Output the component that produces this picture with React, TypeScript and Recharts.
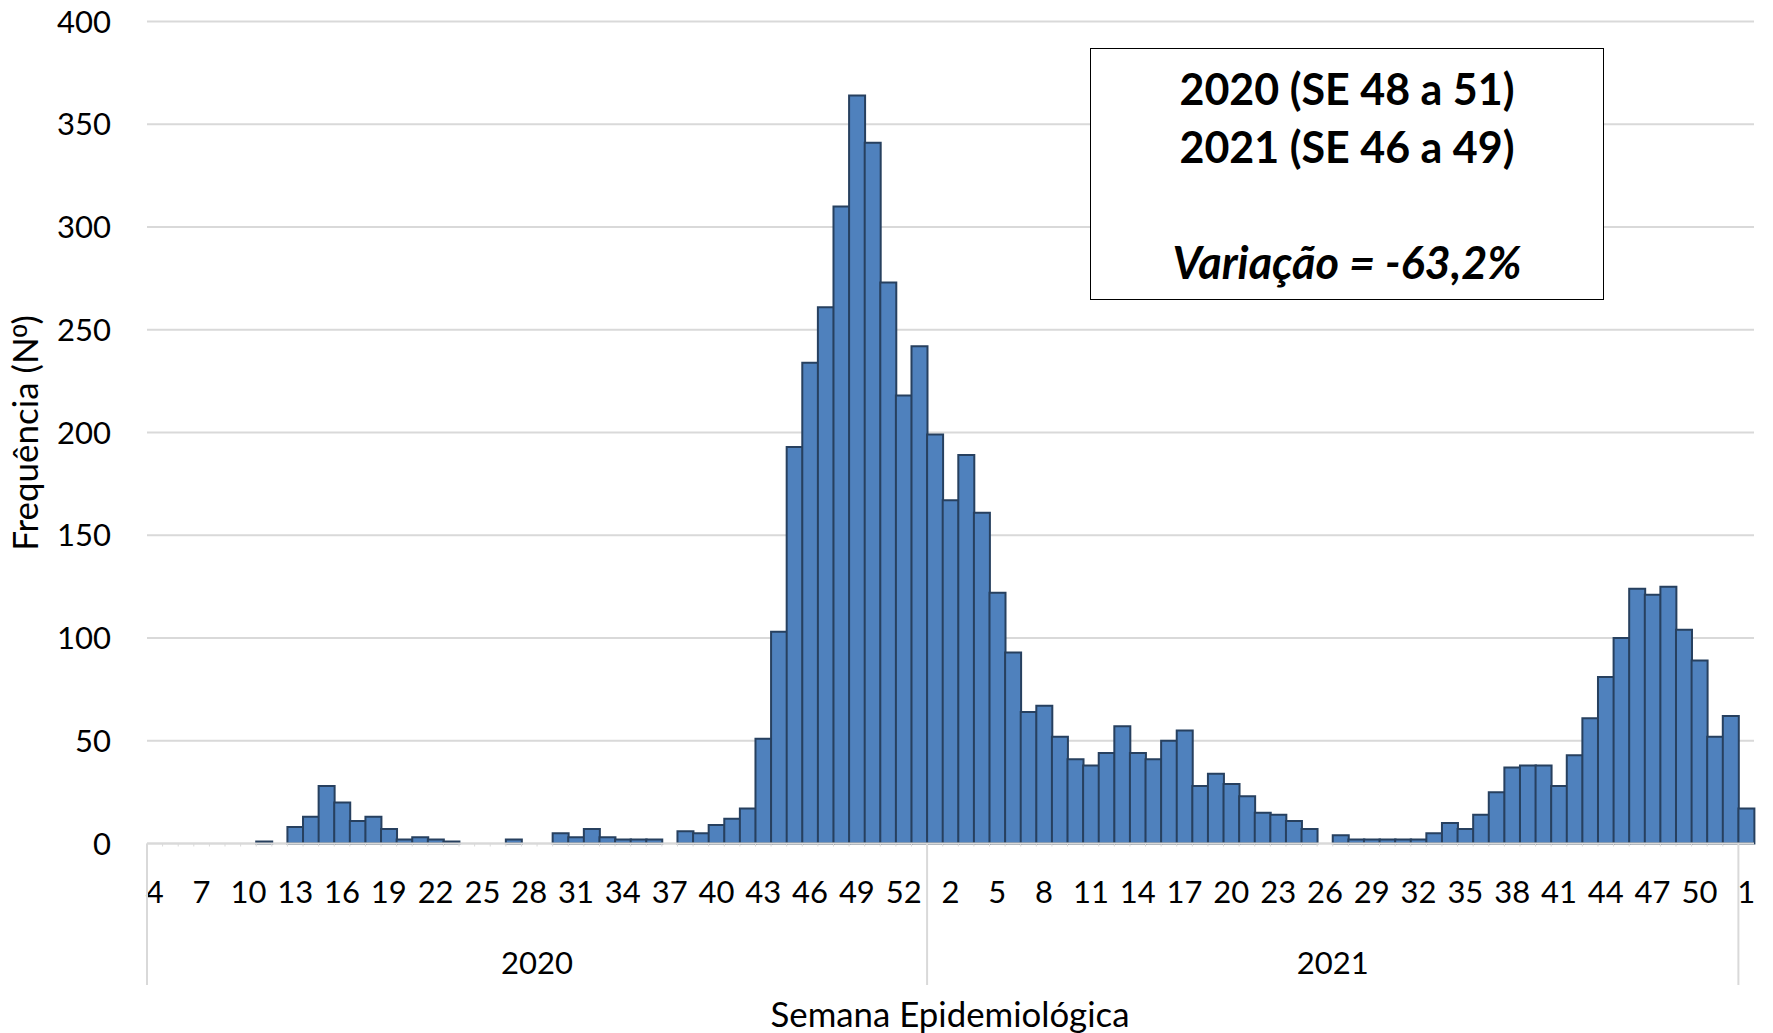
import { BarChart, Bar, XAxis, YAxis, CartesianGrid } from 'recharts'

// semanas epidemiológicas por ano
const WEEKS_2020 = [
  4, 5, 6, 7, 8, 9, 10, 11, 12, 13, 14, 15, 16, 17, 18, 19, 20, 21, 22, 23, 24, 25, 26, 27, 28,
  29, 30, 31, 32, 33, 34, 35, 36, 37, 38, 39, 40, 41, 42, 43, 44, 45, 46, 47, 48, 49, 50, 51, 52, 53,
]
const WEEKS_2021 = [
  1, 2, 3, 4, 5, 6, 7, 8, 9, 10, 11, 12, 13, 14, 15, 16, 17, 18, 19, 20, 21, 22, 23, 24, 25, 26,
  27, 28, 29, 30, 31, 32, 33, 34, 35, 36, 37, 38, 39, 40, 41, 42, 43, 44, 45, 46, 47, 48, 49, 50, 51, 52,
]
const WEEKS_2022 = [1]

// frequência (Nº) por semana
const CASES_2020 = [
  0, 0, 0, 0, 0, 0, 0, 1, 0, 8,
  13, 28, 20, 11, 13, 7, 2, 3, 2, 1,
  0, 0, 0, 2, 0, 0, 5, 3, 7, 3,
  2, 2, 2, 0, 6, 5, 9, 12, 17, 51,
  103, 193, 234, 261, 310, 364, 341, 273, 218, 242,
]
const CASES_2021 = [
  199, 167, 189, 161, 122, 93, 64, 67, 52, 41,
  38, 44, 57, 44, 41, 50, 55, 28, 34, 29,
  23, 15, 14, 11, 7, 0, 4, 2, 2, 2,
  2, 2, 5, 10, 7, 14, 25, 37, 38, 38,
  28, 43, 61, 81, 100, 124, 121, 125, 104, 89,
  52, 62,
]
const CASES_2022 = [17]

const Y_TICKS = [0, 50, 100, 150, 200, 250, 300, 350, 400]

const groups = [
  { year: '2020', weeks: WEEKS_2020, cases: CASES_2020 },
  { year: '2021', weeks: WEEKS_2021, cases: CASES_2021 },
  { year: '2022', weeks: WEEKS_2022, cases: CASES_2022 },
]

const data = groups.flatMap((g) =>
  g.weeks.map((w, i) => ({ key: `${g.year}-${w}`, year: g.year, week: w, cases: g.cases[i] })),
)

let cursor = 0
const groupSpans = groups.map((g) => {
  const span = { year: g.year, start: cursor, count: g.weeks.length }
  cursor += g.weeks.length
  return span
})

const W = 1773
const H = 1033
const MARGIN = { top: 21.5, right: 19, left: 0, bottom: 0 }
const Y_AXIS_W = 147
const X_AXIS_H = 189.5
const BAND = (W - MARGIN.left - MARGIN.right - Y_AXIS_W) / data.length

const FONT = 'Lato, sans-serif'
const GRID = '#d9d9d9'

function WeekTick(props: any) {
  const { x, y, payload } = props
  const i = payload?.index ?? props.index
  const row = data[i]
  if (!row) return null
  const left = x - BAND / 2
  const span = groupSpans.find((s) => i >= s.start && i < s.start + s.count)
  const els = [
    <line key="t" x1={left} x2={left} y1={y} y2={y + 3} stroke={GRID} strokeWidth={1} />,
  ]
  if (i % 3 === 0) {
    els.push(
      <text key="w" x={x} y={y + 59.5} textAnchor="middle" fontSize={31} fontFamily={FONT} fill="#000">
        {row.week}
      </text>,
    )
  }
  if (span && i === span.start) {
    els.push(<line key="s" x1={left} x2={left} y1={y} y2={y + 141.5} stroke={GRID} strokeWidth={2} />)
  }
  // Excel omits the year label when the group is too narrow (2022)
  if (span && span.count * BAND > 80 && i === span.start + Math.floor((span.count - 1) / 2)) {
    const cx = span.count % 2 === 0 ? x + BAND / 2 : x
    els.push(
      <text key="y" x={cx} y={y + 130.5} textAnchor="middle" fontSize={31} fontFamily={FONT} fill="#000">
        {span.year}
      </text>,
    )
  }
  return <g>{els}</g>
}

export default function App() {
  return (
    <div
      style={{
        position: 'absolute',
        left: 0,
        top: 0,
        width: W,
        height: H,
        background: '#fff',
        fontFamily: FONT,
        color: '#000',
      }}
    >
      <BarChart width={W} height={H} data={data} margin={MARGIN} barCategoryGap={0} barGap={0}>
        <CartesianGrid vertical={false} stroke={GRID} strokeWidth={2} />
        <XAxis
          dataKey="key"
          interval={0}
          height={X_AXIS_H}
          axisLine={{ stroke: GRID, strokeWidth: 2 }}
          tickLine={false}
          tickSize={0}
          tickMargin={0}
          tick={<WeekTick />}
        />
        <YAxis
          width={Y_AXIS_W}
          domain={[0, 400]}
          ticks={Y_TICKS}
          axisLine={false}
          tickLine={false}
          tickSize={0}
          tickMargin={36}
          tick={{ fontSize: 31, fill: '#000', fontFamily: FONT }}
        />
        <Bar dataKey="cases" fill="#4f81bd" stroke="#27405f" strokeWidth={2} isAnimationActive={false} />
      </BarChart>

      <div
        style={{
          position: 'absolute',
          left: 25,
          top: 433,
          transform: 'translate(-50%, -50%) rotate(-90deg)',
          whiteSpace: 'nowrap',
          fontSize: 35,
          lineHeight: 1,
        }}
      >
        Frequência (N<span style={{ fontFamily: '"Liberation Sans", sans-serif' }}>º</span>)
      </div>

      <div
        style={{
          position: 'absolute',
          left: 950,
          top: 1014,
          transform: 'translate(-50%, -50%)',
          whiteSpace: 'nowrap',
          fontSize: 34.8,
          lineHeight: 1,
        }}
      >
        Semana Epidemiológica
      </div>

      <div
        style={{
          position: 'absolute',
          left: 1090,
          top: 47.5,
          width: 514,
          height: 252,
          border: '1.5px solid #000',
          boxSizing: 'border-box',
          background: '#fff',
          fontWeight: 700,
          fontSize: 43,
          textAlign: 'center',
        }}
      >
        <div style={{ position: 'absolute', left: 0, right: 0, top: 15.5, height: 50, lineHeight: '50px' }}>
          2020 (SE 48 a 51)
        </div>
        <div style={{ position: 'absolute', left: 0, right: 0, top: 73.5, height: 50, lineHeight: '50px' }}>
          2021 (SE 46 a 49)
        </div>
        <div
          style={{
            position: 'absolute',
            left: 0,
            right: 0,
            top: 188.5,
            height: 50,
            lineHeight: '50px',
            fontStyle: 'italic',
            fontSize: 45,
          }}
        >
          Variação = -63,2%
        </div>
      </div>
    </div>
  )
}
